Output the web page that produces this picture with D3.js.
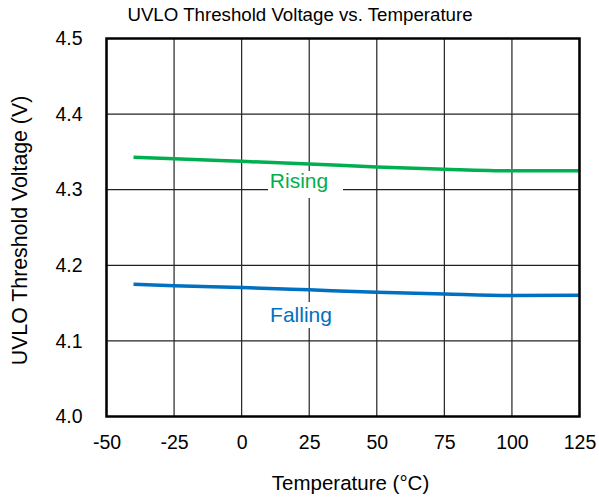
<!DOCTYPE html>
<html>
<head>
<meta charset="utf-8">
<script src="https://cdn.jsdelivr.net/npm/d3@7"></script>
<style>
  body { margin: 0; background: #fff; }
  text { font-family: "Liberation Sans", Arial, sans-serif; }
</style>
</head>
<body>
<script>
// Data
const temps = [-40, -25, 0, 25, 50, 75, 100, 125];
const rising = [4.343, 4.341, 4.3375, 4.334, 4.330, 4.327, 4.325, 4.325];
const falling = [4.175, 4.173, 4.1705, 4.1675, 4.1645, 4.162, 4.160, 4.1605];
const xTicks = [-50, -25, 0, 25, 50, 75, 100, 125];
const yTicks = [4.0, 4.1, 4.2, 4.3, 4.4, 4.5];

const width = 599, height = 500;
const margin = {top: 38.5, right: 19.5, bottom: 83.5, left: 106.5};

const svg = d3.select("body").append("svg")
    .attr("width", width)
    .attr("height", height);

const xscale = d3.scaleLinear()
    .domain([-50, 125])
    .range([margin.left, width - margin.right]);

const yscale = d3.scaleLinear()
    .domain([4.0, 4.5])
    .range([height - margin.bottom, margin.top]);

// title
svg.append("text")
    .attr("x", 300)
    .attr("y", 21)
    .attr("text-anchor", "middle")
    .attr("font-size", 18.7)
    .text("UVLO Threshold Voltage vs. Temperature");

// grid
svg.append("g")
    .selectAll("line")
    .data(xTicks)
    .enter()
    .append("line")
    .attr("x1", d => xscale(d)).attr("x2", d => xscale(d))
    .attr("y1", margin.top).attr("y2", height - margin.bottom)
    .attr("stroke", "#222").attr("stroke-width", 1.2);

svg.append("g")
    .selectAll("line")
    .data(yTicks)
    .enter()
    .append("line")
    .attr("x1", margin.left).attr("x2", width - margin.right)
    .attr("y1", d => yscale(d)).attr("y2", d => yscale(d))
    .attr("stroke", "#222").attr("stroke-width", 1.2);

// axes (labels only)
const xaxis = d3.axisBottom(xscale).tickValues(xTicks).tickSize(0).tickPadding(19)
    .tickFormat(d => String(d));
const yaxis = d3.axisLeft(yscale).tickValues(yTicks).tickSize(0).tickPadding(24)
    .tickFormat(d => d.toFixed(1));

const gx = svg.append("g")
    .attr("transform", `translate(0, ${height - margin.bottom})`)
    .call(xaxis);
const gy = svg.append("g")
    .attr("transform", `translate(${margin.left}, 0)`)
    .call(yaxis);
[gx, gy].forEach(g => {
    g.select(".domain").remove();
    g.selectAll("text")
        .attr("font-size", 19.5)
        .attr("font-family", "Liberation Sans, Arial, sans-serif")
        .attr("fill", "#000");
});

// axis titles
svg.append("text")
    .attr("x", 350.5)
    .attr("y", 490)
    .attr("text-anchor", "middle")
    .attr("font-size", 20.5)
    .text("Temperature (°C)");

svg.append("text")
    .attr("transform", "translate(27, 230.5) rotate(-90)")
    .attr("text-anchor", "middle")
    .attr("font-size", 21.3)
    .text("UVLO Threshold Voltage (V)");

// curves
const line = d3.line()
    .x((d, i) => xscale(temps[i]))
    .y(d => yscale(d))
    .curve(d3.curveMonotoneX);

svg.append("path")
    .datum(rising)
    .attr("fill", "none")
    .attr("stroke", "#00b050")
    .attr("stroke-width", 3.5)
    .attr("d", line);

svg.append("path")
    .datum(falling)
    .attr("fill", "none")
    .attr("stroke", "#0070c0")
    .attr("stroke-width", 3.5)
    .attr("d", line);

// series labels with white boxes
const labels = [
    {text: "Rising", x: 299, y: 187.5, color: "#00b050", box: [268, 171, 75, 27]},
    {text: "Falling", x: 301, y: 322, color: "#0070c0", box: [265, 302, 72, 26]}
];
labels.forEach(l => {
    svg.append("rect")
        .attr("x", l.box[0]).attr("y", l.box[1])
        .attr("width", l.box[2]).attr("height", l.box[3])
        .attr("fill", "#fff");
    svg.append("text")
        .attr("x", l.x).attr("y", l.y)
        .attr("text-anchor", "middle")
        .attr("font-size", 21)
        .attr("fill", l.color)
        .text(l.text);
});

// frame
svg.append("rect")
    .attr("x", margin.left).attr("y", margin.top)
    .attr("width", width - margin.left - margin.right)
    .attr("height", height - margin.top - margin.bottom)
    .attr("fill", "none")
    .attr("stroke", "#000")
    .attr("stroke-width", 2.5);
</script>
</body>
</html>
